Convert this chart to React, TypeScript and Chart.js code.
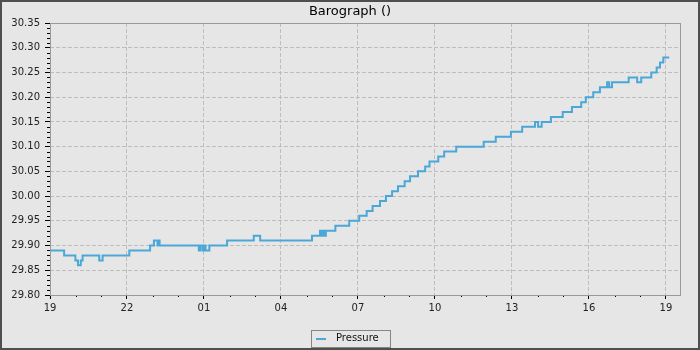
import React, { useEffect, useRef } from 'react';
import { Chart, registerables } from 'chart.js';

Chart.register(...registerables);

const TITLE = 'Barograph ()';
const SERIES_LABEL = 'Pressure';
const START_HOUR = 19;

// hours since 19:00, value starts at that time (step chart)
const hours = [
  0, 0.55, 0.99, 1.09, 1.2, 1.27, 1.92, 2.05, 3.09, 3.9,
  4.05, 4.19, 4.23, 4.27, 5.8, 5.87, 5.96, 6.0, 6.06, 6.21,
  6.9, 7.94, 8.19, 10.21, 10.52, 10.58, 10.64, 10.68, 10.75, 11.12,
  11.66, 12.05, 12.34, 12.57, 12.86, 13.09, 13.33, 13.56, 13.82, 14.03,
  14.34, 14.62, 14.79, 15.13, 15.36, 15.83, 16.9, 17.37, 17.96, 18.4,
  18.9, 19.02, 19.16, 19.52, 19.98, 20.34, 20.7, 20.88, 21.17, 21.43,
  21.71, 21.79, 21.9, 22.55, 22.88, 23.04, 23.43, 23.64, 23.77, 23.9,
  24.13,
];

const pressure = [
  29.89, 29.88, 29.87, 29.86, 29.87, 29.88, 29.87, 29.88, 29.89, 29.9,
  29.91, 29.9, 29.91, 29.9, 29.89, 29.9, 29.89, 29.9, 29.89, 29.9,
  29.91, 29.92, 29.91, 29.92, 29.93, 29.92, 29.93, 29.92, 29.93, 29.94,
  29.95, 29.96, 29.97, 29.98, 29.99, 30.0, 30.01, 30.02, 30.03, 30.04,
  30.05, 30.06, 30.07, 30.08, 30.09, 30.1, 30.11, 30.12, 30.13, 30.14,
  30.15, 30.14, 30.15, 30.16, 30.17, 30.18, 30.19, 30.2, 30.21, 30.22,
  30.23, 30.22, 30.23, 30.24, 30.23, 30.24, 30.25, 30.26, 30.27, 30.28,
  30.28,
];

const Y_MIN = 29.8;
const Y_MAX = 30.35;
const Y_MAJOR = 0.05;
const Y_MINOR = 0.01;
const X_MIN = 0;
const X_MAX = 24.55;
const X_MAJOR = 3;
const X_MINOR = 1;

const FONT = '"DejaVu Sans", sans-serif';
const BG = '#e6e6e6';
const LINE = '#4aa7d8';

const framePlugin = {
  id: 'frame',
  beforeDraw(chart: any) {
    const { ctx, width, height } = chart;
    ctx.save();
    ctx.fillStyle = BG;
    ctx.fillRect(0, 0, width, height);
    ctx.restore();
  },
  afterDraw(chart: any) {
    const { ctx, chartArea: a, scales, width, height } = chart;
    const x = scales.x;
    const y = scales.y;
    ctx.save();
    // title
    ctx.fillStyle = '#000';
    ctx.font = '13px ' + FONT;
    ctx.textAlign = 'center';
    ctx.textBaseline = 'middle';
    ctx.fillText(TITLE, width / 2, 11.5);

    // minor ticks
    ctx.strokeStyle = '#000';
    ctx.lineWidth = 1;
    ctx.beginPath();
    const ny = Math.round((Y_MAX - Y_MIN) / Y_MINOR);
    const per = Math.round(Y_MAJOR / Y_MINOR);
    for (let i = 0; i <= ny; i++) {
      if (i % per === 0) continue;
      const py = Math.round(y.getPixelForValue(Y_MIN + i * Y_MINOR)) + 0.5;
      ctx.moveTo(a.left - 3, py);
      ctx.lineTo(a.left, py);
    }
    for (let h = X_MIN; h <= X_MAX; h += X_MINOR) {
      if (h % X_MAJOR === 0) continue;
      const px = Math.round(x.getPixelForValue(h)) + 0.5;
      ctx.moveTo(px, a.bottom);
      ctx.lineTo(px, a.bottom + 2);
    }
    ctx.stroke();
    // plot frame
    ctx.strokeStyle = '#9a9a9a';
    ctx.strokeRect(Math.round(a.left) + 0.5, Math.round(a.top) + 0.5, Math.round(a.right - a.left), Math.round(a.bottom - a.top));

    // legend
    const ds = chart.data.datasets[0];
    ctx.font = '10px ' + FONT;
    const tw = ctx.measureText(ds.label).width;
    const w = Math.round(5 + 10 + 10 + tw + 11);
    const h = 17;
    const lx = Math.round(width / 2 - w / 2);
    const ly = 330;
    ctx.strokeStyle = '#858585';
    ctx.strokeRect(lx + 0.5, ly + 0.5, w, h);
    ctx.strokeStyle = ds.borderColor;
    ctx.lineWidth = 2;
    ctx.beginPath();
    ctx.moveTo(lx + 5, ly + 9);
    ctx.lineTo(lx + 15, ly + 9);
    ctx.stroke();
    ctx.fillStyle = '#111';
    ctx.textBaseline = 'middle';
    ctx.textAlign = 'left';
    ctx.fillText(ds.label, lx + 25, ly + 8);

    // outer border
    ctx.strokeStyle = '#4f4f4f';
    ctx.lineWidth = 2;
    ctx.strokeRect(1, 1, width - 2, height - 2);
    ctx.restore();
  },
};

export default function App() {
  const ref = useRef<HTMLCanvasElement | null>(null);

  useEffect(() => {
    if (!ref.current) return;
    const data = hours.map((h, i) => ({ x: h, y: pressure[i] }));
    const chart = new Chart(ref.current, {
      type: 'line',
      data: {
        datasets: [
          {
            label: SERIES_LABEL,
            data,
            borderColor: LINE,
            backgroundColor: LINE,
            borderWidth: 2,
            pointRadius: 0,
            stepped: true,
            fill: false,
          },
        ],
      },
      options: {
        animation: false,
        responsive: false,
        layout: { padding: { left: 0, right: 20, top: 23, bottom: 30 } },
        plugins: {
          legend: { display: false },
          tooltip: { enabled: false },
          title: { display: false },
        },
        scales: {
          x: {
            type: 'linear',
            min: X_MIN,
            max: X_MAX,
            afterFit(scale: any) {
              scale.height = 25;
            },
            ticks: {
              stepSize: X_MAJOR,
              includeBounds: false,
              autoSkip: false,
              maxRotation: 0,
              padding: 3,
              color: '#222',
              font: { family: FONT, size: 10 },
              callback: (v: any) => String((START_HOUR + Number(v)) % 24).padStart(2, '0'),
            },
            grid: {
              color: '#bdbdbd',
              tickColor: '#000',
              tickLength: 4,
              lineWidth: 1,
            },
            border: { display: false, dash: [4, 2] },
          },
          y: {
            type: 'linear',
            min: Y_MIN,
            max: Y_MAX,
            afterFit(scale: any) {
              scale.width = 50;
            },
            ticks: {
              stepSize: Y_MAJOR,
              padding: 5,
              color: '#222',
              font: { family: FONT, size: 10 },
              callback: (v: any) => Number(v).toFixed(2),
            },
            grid: {
              color: '#bdbdbd',
              tickColor: '#000',
              tickLength: 5,
              lineWidth: 1,
            },
            border: { display: false, dash: [4, 2] },
          },
        },
      },
      plugins: [framePlugin],
    });
    return () => chart.destroy();
  }, []);

  return (
    <div style={{ position: 'fixed', left: 0, top: 0, width: 700, height: 350 }}>
      <canvas ref={ref} width={700} height={350} style={{ display: 'block' }} />
    </div>
  );
}
